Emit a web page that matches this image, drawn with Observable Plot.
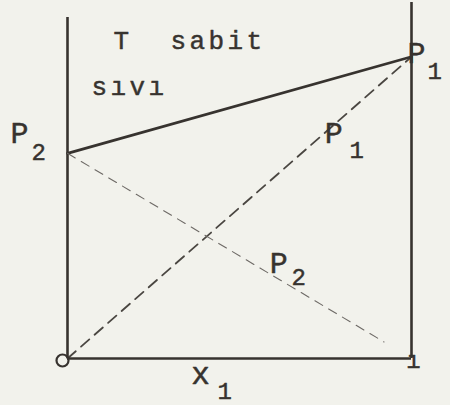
<!DOCTYPE html>
<html>
<head>
<meta charset="utf-8">
<script src="https://cdn.jsdelivr.net/npm/d3@7"></script>
<script src="https://cdn.jsdelivr.net/npm/@observablehq/plot@0.6"></script>
<style>
  html, body { margin: 0; padding: 0; background: #f2f2ec; }
  #chart svg { display: block; }
  #chart text { font-family: "Liberation Mono", "DejaVu Sans Mono", monospace; }
  #chart .spaced text { letter-spacing: 3.4px; }
</style>
</head>
<body>
<div id="chart"></div>
<script>
// Mole fraction of component 1 at the two ends of the diagram
const moleFraction = [0, 1];
// Vapour pressures of the pure liquids (relative units, constant temperature)
const pureP1 = 1.0;
const pureP2 = 0.68;
// Total pressure over the liquid at x1 = 0 and x1 = 1
const totalPressure = [pureP2, pureP1];
// Partial pressure of component 1 (ideal solution)
const partialP1 = [0, pureP1];
// Partial pressure of component 2, the dashed segment as drawn
const partialP2X = [0, 0.92];
const partialP2 = [pureP2, 0.055];
// Upper ends of the left and right pressure axes
const axisTop = [1.13, 1.18];
// Composition-axis tick labels
const tickLabels = ["o", "ı"];

const ink = "#37332f";
const fam = "'Liberation Mono', 'DejaVu Sans Mono', monospace";

const rows = (xs, ys) => xs.map((x, i) => ({x, y: ys[i]}));

// shared look of the typed labels
const typed = (size, extra = {}) => ({
  text: d => d, textAnchor: "start", lineAnchor: "bottom",
  fontSize: size, fill: ink, stroke: ink, strokeWidth: 0.45, fontFamily: fam, ...extra
});

const chart = Plot.plot({
  width: 450,
  height: 405,
  marginLeft: 67,
  marginRight: 39,
  marginTop: 2,
  marginBottom: 47,
  x: {domain: [0, 1], axis: null},
  y: {domain: [0, 1.18], axis: null},
  style: {background: "#f2f2ec", overflow: "visible"},
  marks: [
    // pressure axes at x1 = 0 and x1 = 1
    Plot.ruleX(moleFraction, {
      x: d => d, y1: 0, y2: (d, i) => axisTop[i],
      stroke: ink, strokeWidth: 2.6
    }),
    // composition axis
    Plot.ruleY([0], {x1: moleFraction[0], x2: moleFraction[1], stroke: ink, strokeWidth: 2.6}),
    // total vapour pressure over the liquid
    Plot.line(rows(moleFraction, totalPressure), {
      x: "x", y: "y", stroke: ink, strokeWidth: 2.7
    }),
    // partial pressure of component 1
    Plot.line(rows(moleFraction, partialP1), {
      x: "x", y: "y", stroke: ink, strokeWidth: 1.8, strokeDasharray: "11 7", strokeOpacity: 0.9
    }),
    // partial pressure of component 2
    Plot.line(rows(partialP2X, partialP2), {
      x: "x", y: "y", stroke: "#6e6a66", strokeWidth: 1.1, strokeDasharray: "9 7"
    }),
    // tick labels: "o" drawn as a small ring at the origin, "ı" hooking under the right axis
    Plot.dot([moleFraction[0]], {
      x: d => d, y: 0, r: 6, dx: -5, dy: 2, stroke: ink, strokeWidth: 2.2, fill: "none"
    }),
    Plot.text([tickLabels[1]], {
      x: moleFraction[1], y: 0, ...typed(24, {textAnchor: "middle", dx: 2, dy: 9})
    }),
    // region labels
    Plot.text(["T  sabit"], {x: 0.134, y: 1.027, ...typed(26, {className: "spaced"})}),
    Plot.text(["sıvı"], {x: 0.07, y: 0.872, ...typed(26, {className: "spaced"})}),
    // P2 at the left end of the liquid line
    Plot.text(["P"], {x: 0, y: pureP2, ...typed(30, {dx: -57, dy: -10})}),
    Plot.text(["2"], {x: 0, y: pureP2, ...typed(24, {dx: -36, dy: 7})}),
    // P1 at the right end of the liquid line
    Plot.text(["P"], {x: 1, y: pureP1, ...typed(30, {dx: -4, dy: 6})}),
    Plot.text(["1"], {x: 1, y: pureP1, ...typed(24, {dx: 16, dy: 22})}),
    // labels of the two partial-pressure lines
    Plot.text(["P"], {x: 0.748, y: 0.713, ...typed(30)}),
    Plot.text(["1"], {x: 0.82, y: 0.663, ...typed(24)}),
    Plot.text(["P"], {x: 0.588, y: 0.282, ...typed(30)}),
    Plot.text(["2"], {x: 0.651, y: 0.242, ...typed(24)}),
    // composition axis title x1
    Plot.text(["x"], {x: 0.36, y: 0, ...typed(31, {dy: 25})}),
    Plot.text(["1"], {x: 0.436, y: 0, ...typed(24, {dy: 40})})
  ]
});

document.getElementById("chart").append(chart);
</script>
</body>
</html>
